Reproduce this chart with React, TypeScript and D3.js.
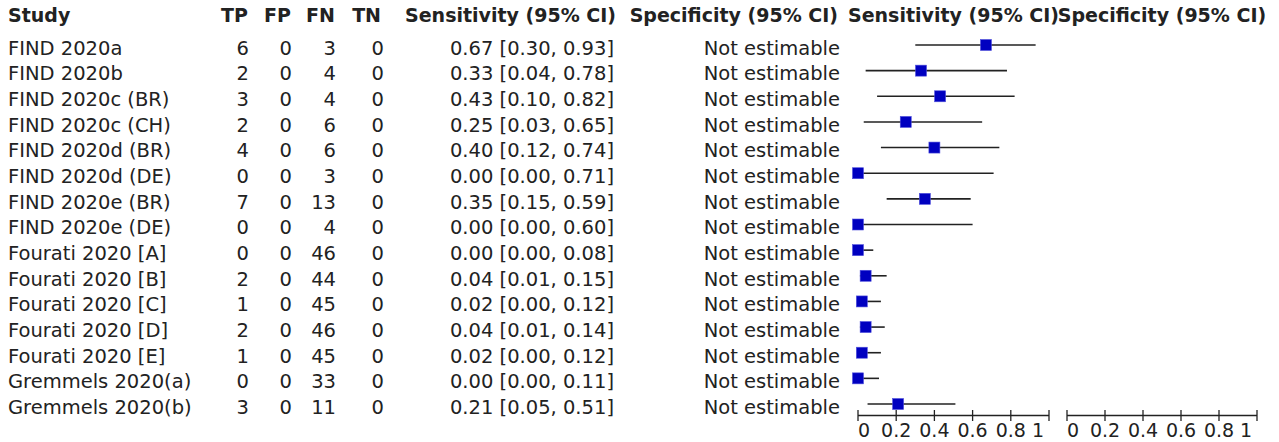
import React from "react";
import * as d3 from "d3";

const studies = [
  "FIND 2020a", "FIND 2020b", "FIND 2020c (BR)", "FIND 2020c (CH)", "FIND 2020d (BR)",
  "FIND 2020d (DE)", "FIND 2020e (BR)", "FIND 2020e (DE)", "Fourati 2020 [A]", "Fourati 2020 [B]",
  "Fourati 2020 [C]", "Fourati 2020 [D]", "Fourati 2020 [E]", "Gremmels 2020(a)", "Gremmels 2020(b)",
];
const tp = [6, 2, 3, 2, 4, 0, 7, 0, 0, 2, 1, 2, 1, 0, 3];
const fp = [0, 0, 0, 0, 0, 0, 0, 0, 0, 0, 0, 0, 0, 0, 0];
const fn = [3, 4, 4, 6, 6, 3, 13, 4, 46, 44, 45, 46, 45, 33, 11];
const tn = [0, 0, 0, 0, 0, 0, 0, 0, 0, 0, 0, 0, 0, 0, 0];
const sens = [0.67, 0.33, 0.43, 0.25, 0.40, 0.00, 0.35, 0.00, 0.00, 0.04, 0.02, 0.04, 0.02, 0.00, 0.21];
const sensLo = [0.30, 0.04, 0.10, 0.03, 0.12, 0.00, 0.15, 0.00, 0.00, 0.01, 0.00, 0.01, 0.00, 0.00, 0.05];
const sensHi = [0.93, 0.78, 0.82, 0.65, 0.74, 0.71, 0.59, 0.60, 0.08, 0.15, 0.12, 0.14, 0.12, 0.11, 0.51];
const specText = "Not estimable";
const ticks = [0, 0.2, 0.4, 0.6, 0.8, 1];
const tickLabels = ["0", "0.2", "0.4", "0.6", "0.8", "1"];
const headers = ["Study", "TP", "FP", "FN", "TN", "Sensitivity (95% CI)", "Specificity (95% CI)"];

const FONT = "DejaVu Sans";
const FS = 19.5;

export default function App() {
  const W = 1279, H = 442;
  const y = d3.scalePoint<string>().domain(studies).range([45, 404]);
  const xSens = d3.scaleLinear().domain([0, 1]).range([858, 1049]);
  const xSpec = d3.scaleLinear().domain([0, 1]).range([1067, 1257]);
  const axisY = 415.5;
  const fmt = d3.format(".2f");
  const colEnds = [249, 292, 336, 384];
  const base = (s: string) => (y(s) as number) + 9.8;

  const axis = (x: d3.ScaleLinear<number, number>, key: string) => (
    <g key={key}>
      <line x1={x(0)} x2={x(1)} y1={axisY} y2={axisY} stroke="#222" strokeWidth={1.3} />
      {ticks.map((t, i) => (
        <g key={i}>
          <line x1={x(t)} x2={x(t)} y1={axisY - 5.5} y2={axisY + 5.5} stroke="#222" strokeWidth={1.3} />
          <text
            x={i === 0 ? x(t) : i === ticks.length - 1 ? x(t) - 5 : x(t)}
            y={437}
            textAnchor={i === 0 ? "start" : i === ticks.length - 1 ? "end" : "middle"}
            fontSize={19}
            fontFamily={FONT}
            fill="#222"
          >
            {tickLabels[i]}
          </text>
        </g>
      ))}
    </g>
  );

  return (
    <svg width={W} height={H} style={{ position: "absolute", left: 0, top: 0 }}>
      <rect width={W} height={H} fill="#fff" />
      <g fontFamily={FONT} fontWeight="bold" fontSize={19} fill="#222">
        <text x={8} y={22}>{headers[0]}</text>
        <text x={248} y={22} textAnchor="end">{headers[1]}</text>
        <text x={291} y={22} textAnchor="end">{headers[2]}</text>
        <text x={335} y={22} textAnchor="end">{headers[3]}</text>
        <text x={381} y={22} textAnchor="end">{headers[4]}</text>
        <text x={616} y={22} textAnchor="end">{headers[5]}</text>
        <text x={838} y={22} textAnchor="end">{headers[6]}</text>
        <text x={(xSens(0) + xSens(1)) / 2} y={22} textAnchor="middle">{headers[5]}</text>
        <text x={(xSpec(0) + xSpec(1)) / 2} y={22} textAnchor="middle">{headers[6]}</text>
      </g>
      <g fontFamily={FONT} fontSize={FS} fill="#222">
        {studies.map((s, i) => (
          <g key={s}>
            <text x={8} y={base(s)}>{s}</text>
            <text x={colEnds[0]} y={base(s)} textAnchor="end">{tp[i]}</text>
            <text x={colEnds[1]} y={base(s)} textAnchor="end">{fp[i]}</text>
            <text x={colEnds[2]} y={base(s)} textAnchor="end">{fn[i]}</text>
            <text x={colEnds[3]} y={base(s)} textAnchor="end">{tn[i]}</text>
            <text x={614} y={base(s)} textAnchor="end">
              {`${fmt(sens[i])} [${fmt(sensLo[i])}, ${fmt(sensHi[i])}]`}
            </text>
            <text x={840} y={base(s)} textAnchor="end">{specText}</text>
          </g>
        ))}
      </g>
      {studies.map((s, i) => {
        const cy = y(s) as number;
        return (
          <g key={"m" + s}>
            <line x1={xSens(sensLo[i])} x2={xSens(sensHi[i])} y1={cy} y2={cy} stroke="#222" strokeWidth={1.6} />
            <rect x={xSens(sens[i]) - 5.5} y={cy - 5.5} width={11} height={11} fill="#0000c0" stroke="#5050dd" strokeWidth={0.6} />
          </g>
        );
      })}
      {axis(xSens, "sens")}
      {axis(xSpec, "spec")}
    </svg>
  );
}
